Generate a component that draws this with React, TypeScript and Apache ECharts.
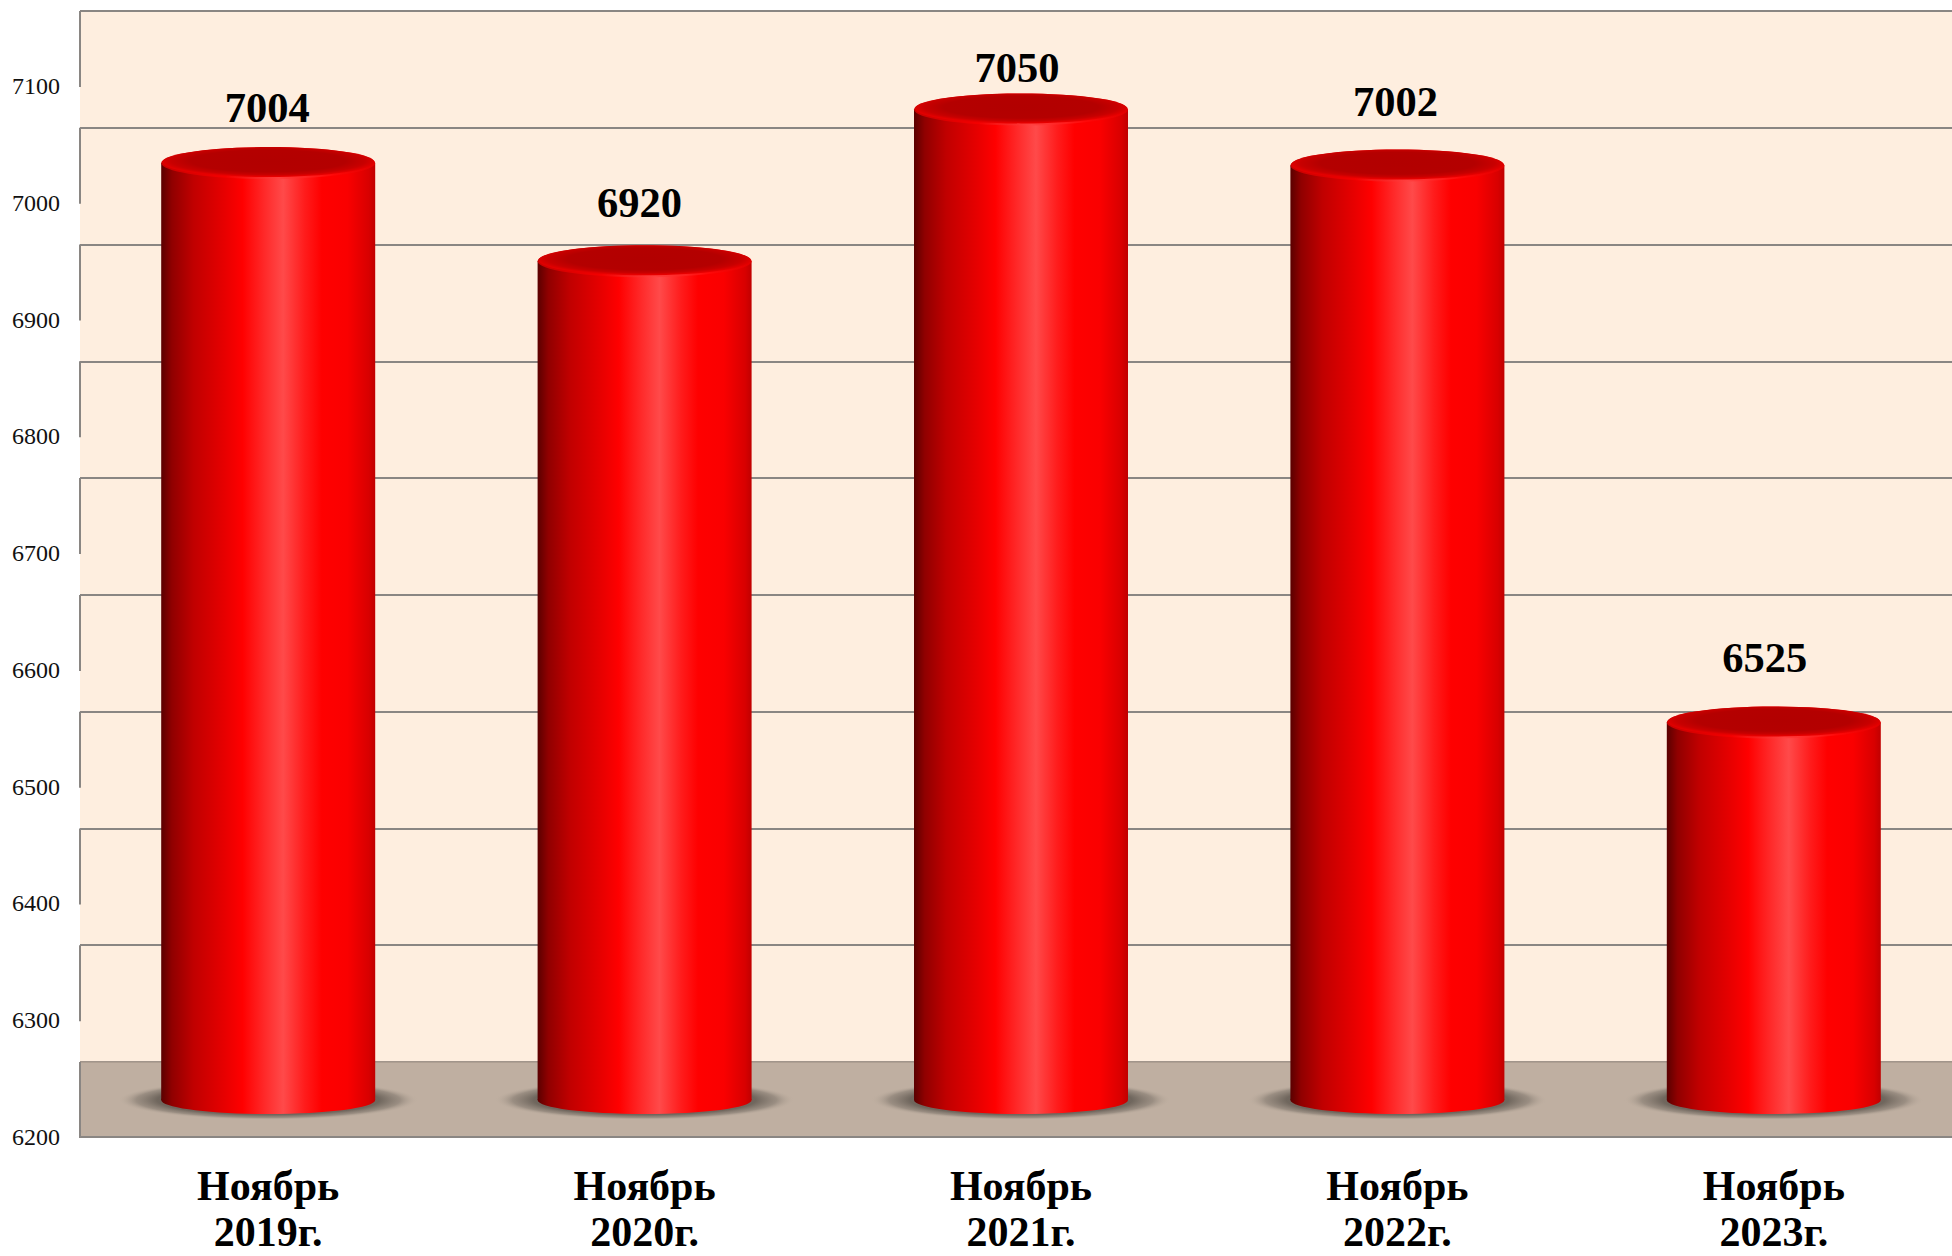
import React, { useEffect, useRef } from "react";
import * as echarts from "echarts";

const categories = ["Ноябрь\n2019г.", "Ноябрь\n2020г.", "Ноябрь\n2021г.", "Ноябрь\n2022г.", "Ноябрь\n2023г."];
const values = [7004, 6920, 7050, 7002, 6525];
const axisTicks = [6200, 6300, 6400, 6500, 6600, 6700, 6800, 6900, 7000, 7100];
const labelNudgeX = [-1, -5, -4, -2, -9];
const labelNudgeY = [-56, -59, -42, -64, -65];

const FONT = '"Liberation Serif", serif';
const WALL_DEPTH = 75;
const RIM_DEPTH = 35;
const BASE_DEPTH = 37;
const LINE = "#8a8683";

const sideGradient = () =>
  new echarts.graphic.LinearGradient(0, 0, 1, 0, [
    { offset: 0, color: "#5a0000" },
    { offset: 0.05, color: "#900000" },
    { offset: 0.15, color: "#c00000" },
    { offset: 0.3, color: "#e80000" },
    { offset: 0.38, color: "#ff0000" },
    { offset: 0.48, color: "#ff2828" },
    { offset: 0.57, color: "#ff4a4a" },
    { offset: 0.67, color: "#ff1c1c" },
    { offset: 0.75, color: "#ff0000" },
    { offset: 0.87, color: "#fa0000" },
    { offset: 0.97, color: "#d80000" },
    { offset: 1, color: "#c00000" },
  ]);

const rimGradient = () =>
  new echarts.graphic.LinearGradient(0, 0, 1, 0, [
    { offset: 0, color: "#c80000" },
    { offset: 0.3, color: "#f40000" },
    { offset: 0.55, color: "#ff4040" },
    { offset: 0.8, color: "#ff0808" },
    { offset: 1, color: "#e00000" },
  ]);

const capGradient = () =>
  new echarts.graphic.RadialGradient(0.5, 0.46, 0.52, [
    { offset: 0, color: "#b20000" },
    { offset: 0.7, color: "#b40000" },
    { offset: 0.88, color: "#c80000" },
    { offset: 1, color: "#e60000" },
  ]);

const shadowGradient = () =>
  new echarts.graphic.RadialGradient(0.5, 0.5, 0.5, [
    { offset: 0, color: "#665d55" },
    { offset: 0.74, color: "rgba(110,101,92,0.98)" },
    { offset: 0.88, color: "rgba(130,120,110,0.6)" },
    { offset: 1, color: "rgba(190,175,160,0)" },
  ]);

function renderWall(_params: any, api: any) {
  const v = api.value(0);
  const [x, y] = api.coord([0, v]);
  const left = x - api.size([1, 0])[0] / 2;
  const right = left + api.size([1, 0])[0] * categories.length;
  const children: any[] = [];
  if (v === axisTicks[0]) {
    children.push({
      type: "rect",
      shape: { x: left, y: y - WALL_DEPTH, width: right - left, height: WALL_DEPTH },
      style: { fill: "#bfafa1" },
    });
    children.push({
      type: "line",
      shape: { x1: left, y1: y - WALL_DEPTH, x2: right, y2: y - WALL_DEPTH },
      style: { stroke: "#a89a8e", lineWidth: 1.5 },
    });
    children.push({
      type: "line",
      shape: { x1: left, y1: y, x2: right, y2: y },
      style: { stroke: LINE, lineWidth: 2 },
    });
  }
  children.push({
    type: "line",
    shape: { x1: left, y1: y + 1, x2: left, y2: y - WALL_DEPTH },
    style: { stroke: LINE, lineWidth: 2 },
  });
  return { type: "group", children };
}

function renderBar(params: any, api: any) {
  const i = api.value(0);
  const v = api.value(1);
  const [cx, y] = api.coord([i, v]);
  const [, y0] = api.coord([i, axisTicks[0]]);
  const rx = 107;
  const rim = y - RIM_DEPTH;
  const base = y0 - BASE_DEPTH;
  return {
    type: "group",
    children: [
      {
        type: "ellipse",
        shape: { cx, cy: base, rx: 150, ry: 20 },
        style: { fill: shadowGradient() },
      },
      {
        type: "rect",
        shape: { x: cx - rx, y: rim, width: rx * 2, height: base - rim },
        style: { fill: sideGradient() },
      },
      {
        type: "ellipse",
        shape: { cx, cy: base, rx, ry: 14 },
        style: { fill: sideGradient() },
      },
      {
        type: "ellipse",
        shape: { cx, cy: rim, rx, ry: 16 },
        style: { fill: rimGradient() },
      },
      {
        type: "ellipse",
        shape: { cx, cy: rim - 1, rx: rx - 1, ry: 15 },
        style: { fill: capGradient() },
      },
      {
        type: "text",
        style: {
          x: cx + labelNudgeX[params.dataIndex],
          y: rim + labelNudgeY[params.dataIndex],
          text: String(v),
          fill: "#000000",
          font: `bold 42.5px ${FONT}`,
          align: "center",
          verticalAlign: "middle",
        },
      },
    ],
  };
}

export default function App() {
  const ref = useRef<HTMLDivElement>(null);
  useEffect(() => {
    document.body.style.margin = "0";
    const chart = echarts.init(ref.current!, undefined, { renderer: "svg" });
    const frontAxis = {
      type: "value",
      min: axisTicks[0],
      max: axisTicks[axisTicks.length - 1],
      interval: 100,
    };
    chart.setOption({
      animation: false,
      backgroundColor: "#ffffff",
      grid: [
        { left: 80, top: 86, width: 1882, height: 1051, show: false, outerBoundsMode: "none" },
        {
          left: 80,
          top: 11,
          width: 1882,
          height: 1051,
          show: true,
          backgroundColor: "#feeedf",
          borderWidth: 0,
          outerBoundsMode: "none",
        },
      ],
      xAxis: [
        {
          type: "category",
          gridIndex: 0,
          data: categories,
          axisLine: { show: false },
          axisTick: { show: false },
          axisLabel: {
            interval: 0,
            margin: 26,
            fontFamily: FONT,
            fontWeight: "bold",
            fontSize: 42,
            lineHeight: 46,
            color: "#000000",
          },
        },
        {
          type: "category",
          gridIndex: 1,
          data: categories,
          axisLine: { show: false },
          axisTick: { show: false },
          axisLabel: { show: false },
        },
      ],
      yAxis: [
        {
          ...frontAxis,
          gridIndex: 0,
          axisLine: { show: false },
          axisTick: { show: false },
          splitLine: { show: false },
          axisLabel: {
            margin: 20,
            fontFamily: FONT,
            fontSize: 24,
            color: "#111111",
            formatter: (v: number) => String(v),
          },
        },
        {
          ...frontAxis,
          gridIndex: 1,
          axisLine: { show: false },
          axisTick: { show: false },
          axisLabel: { show: false },
          splitLine: { show: true, lineStyle: { color: LINE, width: 2 } },
        },
      ],
      series: [
        {
          type: "custom",
          name: "wall",
          xAxisIndex: 0,
          yAxisIndex: 0,
          z: 1,
          silent: true,
          clip: false,
          renderItem: renderWall,
          encode: { y: 0 },
          data: axisTicks.map((t) => [t]),
        },
        {
          type: "custom",
          name: "bars",
          xAxisIndex: 0,
          yAxisIndex: 0,
          z: 2,
          clip: false,
          renderItem: renderBar,
          encode: { x: 0, y: 1 },
          data: values.map((v, i) => [i, v]),
        },
      ],
    });
    return () => chart.dispose();
  }, []);
  return <div ref={ref} style={{ width: 1952, height: 1256, overflow: "hidden" }} />;
}
